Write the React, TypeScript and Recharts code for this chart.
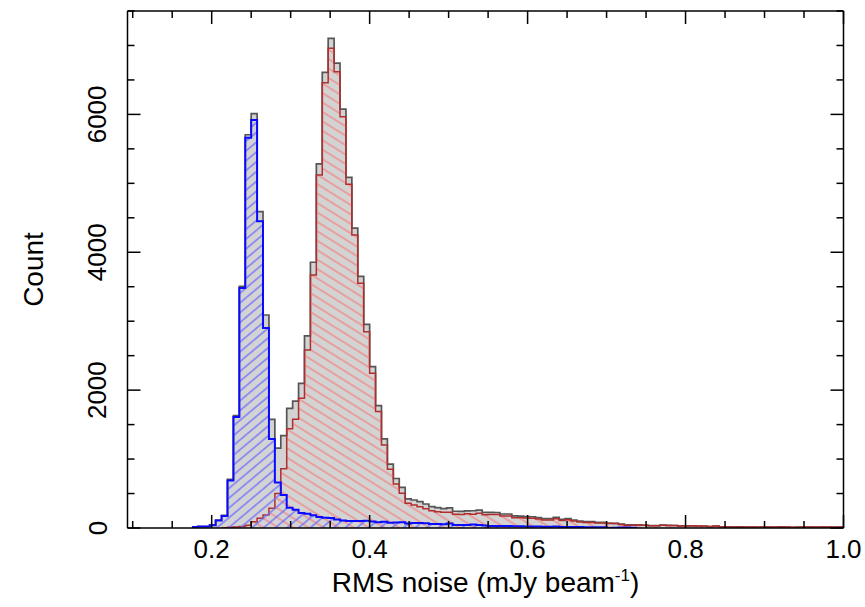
import React from 'react';
import { ComposedChart, Area, XAxis, YAxis } from 'recharts';

// ─── Data ─────────────────────────────────────────────────────────────────────
// 120 bins of 0.0075 mJy/beam from 0.100 to 1.000
const BIN_START = 0.1;
const BIN_WIDTH = 0.0075;

const TOTAL_COUNTS = [
  0, 0, 0, 0, 0, 0, 0, 0, 0, 0,
  15, 20, 22, 42, 115, 182, 705, 1630, 3505, 5705,
  6010, 4590, 3090, 1575, 1160, 1340, 1735, 1840, 2099, 2787,
  3855, 5281, 6610, 7104, 6745, 6077, 5085, 4350, 3649, 2953,
  2340, 1775, 1294, 926, 718, 588, 423, 406, 382, 348,
  309, 295, 282, 293, 243, 240, 247, 250, 260, 227,
  227, 225, 203, 203, 175, 173, 165, 163, 150, 135,
  135, 155, 126, 135, 116, 100, 92, 92, 82, 82,
  68, 68, 58, 44, 44, 44, 40, 34, 34, 42,
  38, 36, 30, 30, 32, 28, 26, 20, 28, 18,
  15, 14, 15, 13, 14, 12, 14, 13, 12, 15,
  13, 10, 12, 14, 13, 12, 14, 13, 12, 13,
];

const BLUE_COUNTS = [
  0, 0, 0, 0, 0, 0, 0, 0, 0, 0,
  15, 20, 22, 40, 110, 175, 690, 1610, 3480, 5660,
  5920, 4450, 2900, 1290, 660, 480, 295, 265, 218, 205,
  185, 160, 150, 146, 125, 110, 100, 100, 100, 105,
  96, 85, 90, 75, 80, 85, 65, 72, 72, 68,
  58, 58, 55, 65, 45, 45, 42, 50, 45, 35,
  30, 30, 28, 28, 25, 25, 20, 20, 20, 18,
  18, 22, 16, 16, 14, 14, 12, 12, 10, 10,
  0, 2, 8, 8, 5, 0, 0, 0, 0, 0,
  0, 0, 0, 0, 0, 0, 0, 0, 0, 0,
  0, 0, 0, 0, 0, 0, 0, 0, 0, 0,
  0, 0, 0, 0, 0, 0, 0, 0, 0, 0,
];

const RED_COUNTS = [
  0, 0, 0, 0, 0, 0, 0, 0, 0, 0,
  0, 0, 0, 0, 0, 5, 12, 15, 20, 40,
  90, 140, 190, 285, 500, 860, 1440, 1576, 1881, 2582,
  3670, 5121, 6460, 6958, 6620, 5967, 4985, 4250, 3549, 2848,
  2244, 1690, 1204, 851, 638, 503, 358, 334, 310, 280,
  251, 237, 227, 228, 198, 195, 205, 200, 215, 192,
  197, 195, 175, 175, 150, 148, 145, 143, 130, 117,
  117, 133, 110, 119, 102, 86, 80, 80, 72, 72,
  68, 66, 50, 36, 39, 44, 40, 34, 34, 40,
  38, 36, 30, 30, 32, 28, 26, 20, 28, 18,
  15, 14, 15, 13, 14, 12, 14, 13, 12, 15,
  13, 10, 12, 14, 13, 12, 14, 13, 12, 13,
];

const X_MAJOR_TICKS = [0.2, 0.4, 0.6, 0.8, 1.0];
const X_MINOR_TICKS = [0.1, 0.15, 0.25, 0.3, 0.35, 0.45, 0.5, 0.55, 0.65, 0.7, 0.75, 0.85, 0.9, 0.95];
const Y_MAJOR_TICKS = [0, 2000, 4000, 6000];
const Y_MINOR_TICKS = [500, 1000, 1500, 2500, 3000, 3500, 4500, 5000, 5500, 6500, 7000, 7500];

// ─── Helpers ──────────────────────────────────────────────────────────────────
const FONT = '"Liberation Sans", Arial, Helvetica, sans-serif';
const X_TICKS = [...X_MAJOR_TICKS, ...X_MINOR_TICKS].sort((a, b) => a - b);
const Y_TICKS = [...Y_MAJOR_TICKS, ...Y_MINOR_TICKS].sort((a, b) => a - b);
const isMajorX = (v: number) => X_MAJOR_TICKS.some((t) => Math.abs(t - v) < 1e-6);
const isMajorY = (v: number) => Y_MAJOR_TICKS.includes(v);

// value of a step series at bin edge i (null outside the populated range)
const stepValue = (counts: number[], i: number): number | null => {
  const first = counts.findIndex((c) => c > 0);
  let last = counts.length - 1;
  while (last > 0 && counts[last] === 0) last--;
  if (i < first || i > last + 1) return null;
  if (i === last + 1) return i < counts.length ? 0 : counts[last];
  return counts[i];
};

const rows = Array.from({ length: TOTAL_COUNTS.length + 1 }, (_, i) => ({
  x: +(BIN_START + i * BIN_WIDTH).toFixed(4),
  total: stepValue(TOTAL_COUNTS, i),
  red: stepValue(RED_COUNTS, i),
  blue: stepValue(BLUE_COUNTS, i),
}));

// ─── Ticks (drawn inward, like the original plot) ─────────────────────────────
const BottomTick = ({ x, y, payload }: any) => {
  const major = isMajorX(payload.value);
  return (
    <g>
      <line x1={x} x2={x} y1={y} y2={y - (major ? 13 : 7)} stroke="#000" strokeWidth={1.5} />
      {major && (
        <text x={x} y={y + 30} textAnchor="middle" fontSize={26} fontFamily={FONT} fill="#000">
          {payload.value.toFixed(1)}
        </text>
      )}
    </g>
  );
};

const TopTick = ({ x, y, payload }: any) => (
  <line x1={x} x2={x} y1={y} y2={y + (isMajorX(payload.value) ? 13 : 7)} stroke="#000" strokeWidth={1.5} />
);

const LeftTick = ({ x, y, payload }: any) => {
  const major = isMajorY(payload.value);
  const tx = x - 30;
  return (
    <g>
      <line x1={x} x2={x + (major ? 13 : 7)} y1={y} y2={y} stroke="#000" strokeWidth={1.5} />
      {major && (
        <text
          x={tx} y={y} transform={`rotate(-90, ${tx}, ${y})`}
          textAnchor="middle" dominantBaseline="central"
          fontSize={26} fontFamily={FONT} fill="#000"
        >
          {payload.value}
        </text>
      )}
    </g>
  );
};

const RightTick = ({ x, y, payload }: any) => (
  <line x1={x} x2={x - (isMajorY(payload.value) ? 13 : 7)} y1={y} y2={y} stroke="#000" strokeWidth={1.5} />
);

// ─── Axis titles ──────────────────────────────────────────────────────────────
const XTitle = ({ viewBox }: any) => {
  const cx = viewBox ? viewBox.x + viewBox.width / 2 : 485;
  const cy = viewBox ? viewBox.y + 64 : 592;
  return (
    <text x={cx} y={cy} textAnchor="middle" fontSize={28} fontFamily={FONT} fill="#000">
      RMS noise (mJy beam
      <tspan dy={-11} fontSize={17}>-1</tspan>
      <tspan dy={11}>)</tspan>
    </text>
  );
};

const YTitle = ({ viewBox }: any) => {
  const cx = viewBox ? viewBox.x + 33 : 33;
  const cy = viewBox ? viewBox.y + viewBox.height / 2 : 270;
  return (
    <text
      x={cx} y={cy} transform={`rotate(-90, ${cx}, ${cy})`}
      textAnchor="middle" dominantBaseline="central"
      fontSize={28} fontFamily={FONT} fill="#000"
    >
      Count
    </text>
  );
};

// ─── Chart ────────────────────────────────────────────────────────────────────
const X_DOMAIN: [number, number] = [0.0934, 1.0];
const Y_DOMAIN: [number, number] = [0, 7500];

export default function App() {
  return (
    <div style={{ position: 'absolute', left: 0, top: 0, background: '#fff' }}>
      <ComposedChart
        width={865}
        height={607}
        data={rows}
        margin={{ top: 10, right: 20.5, bottom: 0, left: 0 }}
      >
        <defs>
          <pattern id="redHatch" width="8" height="8" patternUnits="userSpaceOnUse" patternTransform="rotate(32)">
            <line x1="0" y1="4" x2="8" y2="4" stroke="#f08a8a" strokeWidth="1.4" />
          </pattern>
          <pattern id="blueHatch" width="7.5" height="7.5" patternUnits="userSpaceOnUse" patternTransform="rotate(-40)">
            <line x1="0" y1="3.75" x2="7.5" y2="3.75" stroke="#6c6cff" strokeWidth="1.3" />
          </pattern>
        </defs>

        <XAxis
          dataKey="x" type="number" domain={X_DOMAIN} allowDataOverflow
          ticks={X_TICKS} interval={0} tick={<BottomTick />}
          tickLine={false} tickSize={0} tickMargin={0} height={79}
          axisLine={{ stroke: '#000', strokeWidth: 1.5 }}
          label={<XTitle />}
        />
        <XAxis
          xAxisId="top" orientation="top" dataKey="x" type="number" domain={X_DOMAIN} allowDataOverflow
          ticks={X_TICKS} interval={0} tick={<TopTick />}
          tickLine={false} tickSize={0} tickMargin={0} height={1}
          axisLine={{ stroke: '#000', strokeWidth: 1.5 }}
        />
        <YAxis
          type="number" domain={Y_DOMAIN} allowDataOverflow
          ticks={Y_TICKS} interval={0} tick={<LeftTick />}
          tickLine={false} tickSize={0} tickMargin={0} width={127.5}
          axisLine={{ stroke: '#000', strokeWidth: 1.5 }}
          label={<YTitle />}
        />
        <YAxis
          yAxisId="right" orientation="right" type="number" domain={Y_DOMAIN} allowDataOverflow
          ticks={Y_TICKS} interval={0} tick={<RightTick />}
          tickLine={false} tickSize={0} tickMargin={0} width={1}
          axisLine={{ stroke: '#000', strokeWidth: 1.5 }}
        />

        <Area
          type="stepAfter" dataKey="total" stroke="#555555" strokeWidth={1.7}
          fill="#d3d3d3" fillOpacity={1} dot={false} activeDot={false} isAnimationActive={false}
        />
        <Area
          type="stepAfter" dataKey="red" stroke="#b02e2e" strokeWidth={1.5}
          fill="url(#redHatch)" fillOpacity={1} dot={false} activeDot={false} isAnimationActive={false}
        />
        <Area
          type="stepAfter" dataKey="blue" stroke="#0a0aff" strokeWidth={2}
          fill="url(#blueHatch)" fillOpacity={1} dot={false} activeDot={false} isAnimationActive={false}
        />
      </ComposedChart>
    </div>
  );
}
